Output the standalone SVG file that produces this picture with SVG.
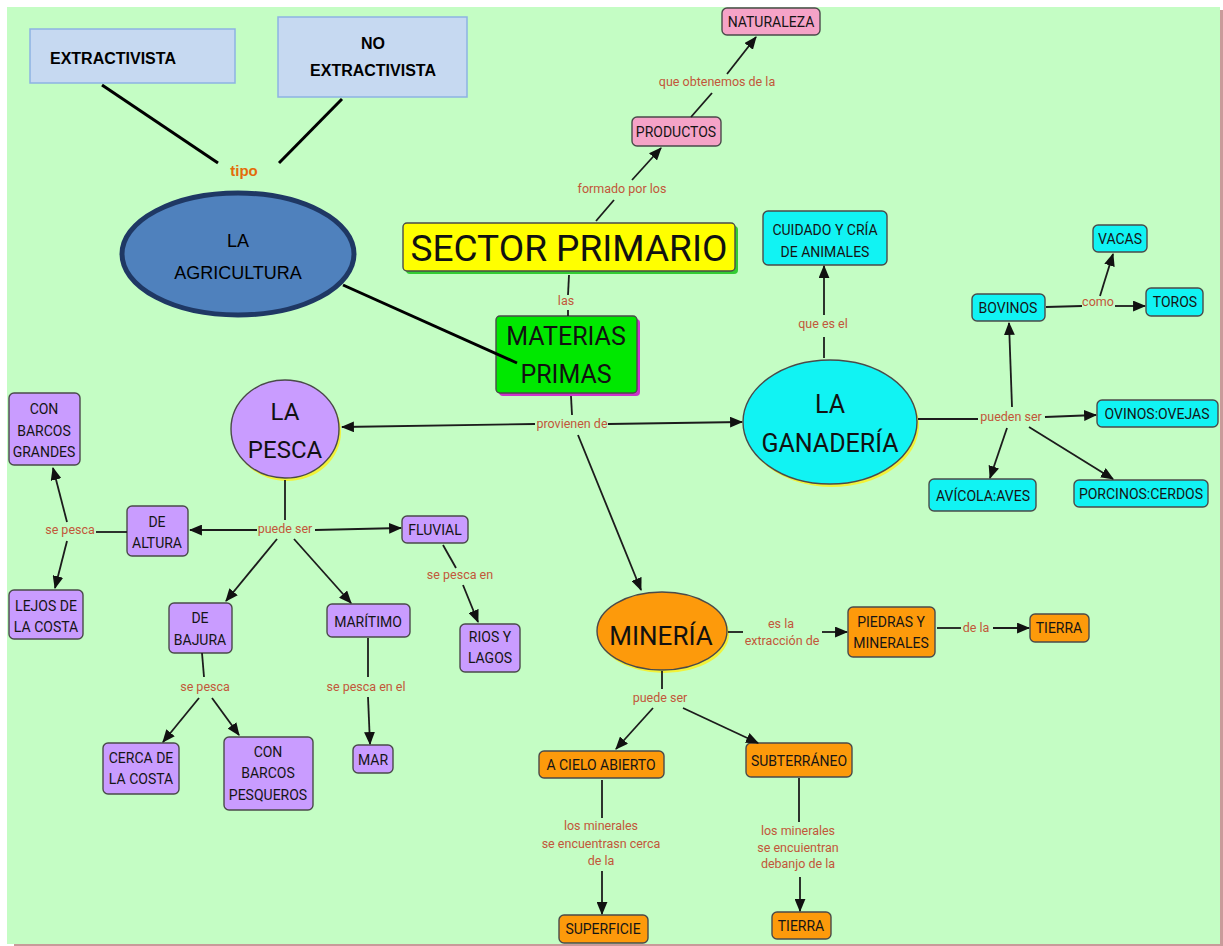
<svg xmlns="http://www.w3.org/2000/svg" width="1223" height="946" viewBox="0 0 1223 946">
<style>
.bg{fill:#c4fdc4}
.box{stroke:#4a4a4a;stroke-width:1.4}
.pink{fill:#f5a3c7}
.cyan{fill:#11f3f3}
.purple{fill:#c99cff}
.orange{fill:#fd9a0b}
.blue{fill:#c6d9f1;stroke:#8db3e2;stroke-width:1.5}
.shadowY{fill:#f2f23a}
.t{font-family:Roboto,"DejaVu Sans",sans-serif;font-size:14px;fill:#151515;text-anchor:middle}
.big{font-family:Roboto,"DejaVu Sans",sans-serif;fill:#111;text-anchor:middle}
.lbl{font-family:Roboto,"DejaVu Sans",sans-serif;font-size:12.5px;fill:#c2573a;text-anchor:middle}
.ar{font-family:"Liberation Sans",Arial,sans-serif;fill:#000;text-anchor:middle}
.c{stroke:#1c1c1c;stroke-width:1.8;fill:none}
.ca{stroke:#1c1c1c;stroke-width:1.8;fill:none;marker-end:url(#ah)}
.thick{stroke:#000;stroke-width:3;fill:none}
</style>
<defs>
<marker id="ah" viewBox="0 0 12 10" refX="11" refY="5" markerWidth="13" markerHeight="11" markerUnits="userSpaceOnUse" orient="auto">
<path d="M0,0 L12,5 L0,10 z" fill="#111"/>
</marker>
</defs>
<rect x="0" y="0" width="1223" height="946" fill="#ffffff"/>
<rect class="bg" x="7" y="7" width="1213" height="937"/>
<rect x="1220" y="10" width="3" height="936" fill="#c99a9a"/>
<rect x="14" y="944" width="1209" height="2" fill="#c99a9a"/>

<g id="extractivista">
<rect class="blue" x="30" y="29" width="205" height="54"/>
<text class="ar" x="50" y="64" style="font-size:16px;font-weight:bold;text-anchor:start">EXTRACTIVISTA</text>
</g>
<g id="no-extractivista">
<rect class="blue" x="278" y="17" width="189" height="80"/>
<text class="ar" x="373" y="49" style="font-size:16px;font-weight:bold">NO</text>
<text class="ar" x="373" y="76" style="font-size:16px;font-weight:bold">EXTRACTIVISTA</text>
</g>
<g id="agricultura">
<ellipse cx="238" cy="254" rx="116" ry="61" fill="#4f81bd" stroke="#1f3864" stroke-width="5"/>
<text class="ar" x="238" y="247" style="font-size:18px">LA</text>
<text class="ar" x="238" y="279" style="font-size:18px">AGRICULTURA</text>
</g>

<g id="sector-primario">
<rect x="406" y="226" width="332" height="48" rx="4" fill="#33cc33"/>
<rect class="box" x="403" y="223" width="332" height="48" rx="4" fill="#ffff00"/>
<text class="big" x="569" y="261" style="font-size:37px">SECTOR PRIMARIO</text>
</g>
<g id="materias-primas">
<rect x="499" y="319" width="141" height="77" rx="4" fill="#cc33cc"/>
<rect class="box" x="496" y="316" width="141" height="77" rx="4" fill="#00e800"/>
<text class="big" x="566" y="345" style="font-size:25px">MATERIAS</text>
<text class="big" x="566" y="383" style="font-size:25px">PRIMAS</text>
</g>
<g id="productos">
<rect class="box pink" x="632" y="117" width="89" height="29" rx="5"/>
<text class="t" x="676" y="137">PRODUCTOS</text>
</g>
<g id="naturaleza">
<rect class="box pink" x="722" y="8" width="98" height="27" rx="5"/>
<text class="t" x="771" y="27">NATURALEZA</text>
</g>

<g id="ganaderia">
<ellipse cx="832" cy="425" rx="87" ry="62" class="shadowY"/>
<ellipse class="box cyan" cx="830" cy="422" rx="87" ry="62"/>
<text class="big" x="830" y="413" style="font-size:25px">LA</text>
<text class="big" x="830" y="452" style="font-size:25px">GANADERÍA</text>
</g>
<g id="cuidado">
<rect class="box cyan" x="763" y="211" width="124" height="54" rx="5"/>
<text class="t" x="825" y="235">CUIDADO Y CRÍA</text>
<text class="t" x="825" y="257">DE ANIMALES</text>
</g>
<g id="bovinos">
<rect class="box cyan" x="972" y="294" width="73" height="27" rx="5"/>
<text class="t" x="1008" y="313">BOVINOS</text>
</g>
<g id="vacas">
<rect class="box cyan" x="1093" y="225" width="54" height="27" rx="5"/>
<text class="t" x="1120" y="244">VACAS</text>
</g>
<g id="toros">
<rect class="box cyan" x="1146" y="288" width="57" height="28" rx="5"/>
<text class="t" x="1175" y="307">TOROS</text>
</g>
<g id="ovinos">
<rect class="box cyan" x="1097" y="400" width="121" height="27" rx="5"/>
<text class="t" x="1157" y="419">OVINOS:OVEJAS</text>
</g>
<g id="avicola">
<rect class="box cyan" x="929" y="479" width="107" height="32" rx="5"/>
<text class="t" x="983" y="501">AVÍCOLA:AVES</text>
</g>
<g id="porcinos">
<rect class="box cyan" x="1074" y="480" width="134" height="27" rx="5"/>
<text class="t" x="1141" y="499">PORCINOS:CERDOS</text>
</g>

<g id="pesca">
<ellipse cx="287" cy="432" rx="54" ry="49" class="shadowY"/>
<ellipse class="box purple" cx="285" cy="429" rx="54" ry="49"/>
<text class="big" x="285" y="420" style="font-size:24px">LA</text>
<text class="big" x="285" y="458" style="font-size:24px">PESCA</text>
</g>
<g id="barcos-grandes">
<rect class="box purple" x="9" y="393" width="71" height="72" rx="5"/>
<text class="t" x="44" y="414">CON</text>
<text class="t" x="44" y="436">BARCOS</text>
<text class="t" x="44" y="457">GRANDES</text>
</g>
<g id="lejos-costa">
<rect class="box purple" x="9" y="590" width="74" height="49" rx="5"/>
<text class="t" x="46" y="611">LEJOS DE</text>
<text class="t" x="46" y="632">LA COSTA</text>
</g>
<g id="de-altura">
<rect class="box purple" x="127" y="506" width="61" height="50" rx="5"/>
<text class="t" x="157" y="527">DE</text>
<text class="t" x="157" y="548">ALTURA</text>
</g>
<g id="fluvial">
<rect class="box purple" x="402" y="516" width="66" height="27" rx="5"/>
<text class="t" x="435" y="535">FLUVIAL</text>
</g>
<g id="de-bajura">
<rect class="box purple" x="169" y="603" width="63" height="50" rx="5"/>
<text class="t" x="200" y="623">DE</text>
<text class="t" x="200" y="645">BAJURA</text>
</g>
<g id="maritimo">
<rect class="box purple" x="327" y="604" width="83" height="33" rx="5"/>
<text class="t" x="368" y="627">MARÍTIMO</text>
</g>
<g id="rios-lagos">
<rect class="box purple" x="460" y="624" width="60" height="48" rx="5"/>
<text class="t" x="490" y="642">RIOS Y</text>
<text class="t" x="490" y="663">LAGOS</text>
</g>
<g id="cerca-costa">
<rect class="box purple" x="103" y="743" width="76" height="51" rx="5"/>
<text class="t" x="141" y="763">CERCA DE</text>
<text class="t" x="141" y="784">LA COSTA</text>
</g>
<g id="barcos-pesqueros">
<rect class="box purple" x="224" y="737" width="89" height="73" rx="5"/>
<text class="t" x="268" y="757">CON</text>
<text class="t" x="268" y="778">BARCOS</text>
<text class="t" x="268" y="800">PESQUEROS</text>
</g>
<g id="mar">
<rect class="box purple" x="353" y="745" width="40" height="28" rx="5"/>
<text class="t" x="373" y="765">MAR</text>
</g>

<g id="mineria">
<ellipse cx="664" cy="634" rx="65" ry="39" class="shadowY"/>
<ellipse class="box orange" cx="662" cy="631" rx="65" ry="39"/>
<text class="big" x="661" y="645" style="font-size:26px">MINERÍA</text>
</g>
<g id="piedras">
<rect class="box orange" x="848" y="607" width="87" height="50" rx="5"/>
<text class="t" x="891" y="627">PIEDRAS Y</text>
<text class="t" x="891" y="648">MINERALES</text>
</g>
<g id="tierra-1">
<rect class="box orange" x="1030" y="614" width="59" height="28" rx="5"/>
<text class="t" x="1059" y="633">TIERRA</text>
</g>
<g id="cielo-abierto">
<rect class="box orange" x="539" y="751" width="125" height="27" rx="5"/>
<text class="t" x="601" y="770">A CIELO ABIERTO</text>
</g>
<g id="subterraneo">
<rect class="box orange" x="746" y="743" width="106" height="34" rx="5"/>
<text class="t" x="799" y="766">SUBTERRÁNEO</text>
</g>
<g id="superficie">
<rect class="box orange" x="559" y="915" width="89" height="28" rx="5"/>
<text class="t" x="603" y="934">SUPERFICIE</text>
</g>
<g id="tierra-2">
<rect class="box orange" x="772" y="912" width="59" height="27" rx="5"/>
<text class="t" x="801" y="931">TIERRA</text>
</g>

<g id="connectors">
<line class="thick" x1="102" y1="85" x2="218" y2="163"/>
<line class="thick" x1="342" y1="99" x2="279" y2="163"/>
<line class="thick" x1="343" y1="285" x2="517" y2="363"/>
<text class="ar" x="244" y="176" style="font-size:15px;font-weight:bold;fill:#e36c0a">tipo</text>

<line class="c" x1="596" y1="221" x2="614" y2="200"/>
<line class="ca" x1="632" y1="180" x2="661" y2="148"/>
<text class="lbl" x="622" y="193">formado por los</text>
<line class="c" x1="691" y1="117" x2="712" y2="93"/>
<line class="ca" x1="727" y1="74" x2="756" y2="37"/>
<text class="lbl" x="717" y="86">que obtenemos de la</text>

<line class="c" x1="569" y1="275" x2="568" y2="295"/>
<line class="c" x1="568" y1="310" x2="568" y2="316"/>
<text class="lbl" x="566" y="305">las</text>

<line class="c" x1="824" y1="358" x2="824" y2="337"/>
<line class="ca" x1="824" y1="315" x2="824" y2="266"/>
<text class="lbl" x="823" y="328">que es el</text>

<line class="c" x1="918" y1="419" x2="978" y2="419"/>
<line class="ca" x1="1045" y1="417" x2="1096" y2="415"/>
<line class="ca" x1="1012" y1="407" x2="1009" y2="323"/>
<line class="ca" x1="1007" y1="428" x2="990" y2="478"/>
<line class="ca" x1="1029" y1="427" x2="1113" y2="479"/>
<text class="lbl" x="1011" y="421">pueden ser</text>

<line class="c" x1="1046" y1="307" x2="1082" y2="306"/>
<line class="ca" x1="1115" y1="306" x2="1145" y2="306"/>
<line class="ca" x1="1100" y1="296" x2="1113" y2="254"/>
<text class="lbl" x="1098" y="306">como</text>

<line class="c" x1="571" y1="396" x2="572" y2="415"/>
<line class="ca" x1="535" y1="424" x2="342" y2="427"/>
<line class="ca" x1="608" y1="424" x2="742" y2="422"/>
<line class="ca" x1="578" y1="435" x2="641" y2="590"/>
<text class="lbl" x="572" y="428">provienen de</text>

<line class="c" x1="285" y1="480" x2="285" y2="520"/>
<line class="ca" x1="257" y1="530" x2="190" y2="530"/>
<line class="ca" x1="315" y1="530" x2="401" y2="528"/>
<line class="ca" x1="277" y1="539" x2="226" y2="601"/>
<line class="ca" x1="294" y1="539" x2="351" y2="603"/>
<text class="lbl" x="285" y="533">puede ser</text>

<line class="c" x1="127" y1="532" x2="96" y2="532"/>
<line class="ca" x1="67" y1="522" x2="53" y2="468"/>
<line class="ca" x1="67" y1="541" x2="55" y2="588"/>
<text class="lbl" x="70" y="534">se pesca</text>

<line class="c" x1="443" y1="545" x2="456" y2="568"/>
<line class="ca" x1="463" y1="585" x2="478" y2="622"/>
<text class="lbl" x="460" y="579">se pesca en</text>

<line class="c" x1="202" y1="653" x2="204" y2="677"/>
<line class="ca" x1="199" y1="698" x2="163" y2="742"/>
<line class="ca" x1="212" y1="698" x2="239" y2="735"/>
<text class="lbl" x="205" y="691">se pesca</text>

<line class="c" x1="368" y1="638" x2="368" y2="677"/>
<line class="ca" x1="368" y1="697" x2="370" y2="744"/>
<text class="lbl" x="366" y="691">se pesca en el</text>

<line class="c" x1="728" y1="632" x2="743" y2="632"/>
<line class="ca" x1="822" y1="632" x2="847" y2="632"/>
<text class="lbl" x="781" y="628">es la</text>
<text class="lbl" x="782" y="645">extracción de</text>

<line class="c" x1="937" y1="628" x2="961" y2="628"/>
<line class="ca" x1="993" y1="628" x2="1029" y2="628"/>
<text class="lbl" x="976" y="632">de la</text>

<line class="c" x1="662" y1="671" x2="662" y2="689"/>
<line class="ca" x1="653" y1="708" x2="616" y2="749"/>
<line class="ca" x1="683" y1="708" x2="758" y2="743"/>
<text class="lbl" x="660" y="702">puede ser</text>

<line class="c" x1="602" y1="780" x2="602" y2="818"/>
<line class="ca" x1="602" y1="871" x2="602" y2="914"/>
<text class="lbl" x="601" y="830">los minerales</text>
<text class="lbl" x="601" y="848">se encuentrasn cerca</text>
<text class="lbl" x="601" y="865">de la</text>

<line class="c" x1="799" y1="778" x2="799" y2="822"/>
<line class="ca" x1="800" y1="877" x2="800" y2="911"/>
<text class="lbl" x="798" y="835">los minerales</text>
<text class="lbl" x="798" y="852">se encuientran</text>
<text class="lbl" x="798" y="868">debanjo de la</text>
</g>
</svg>
